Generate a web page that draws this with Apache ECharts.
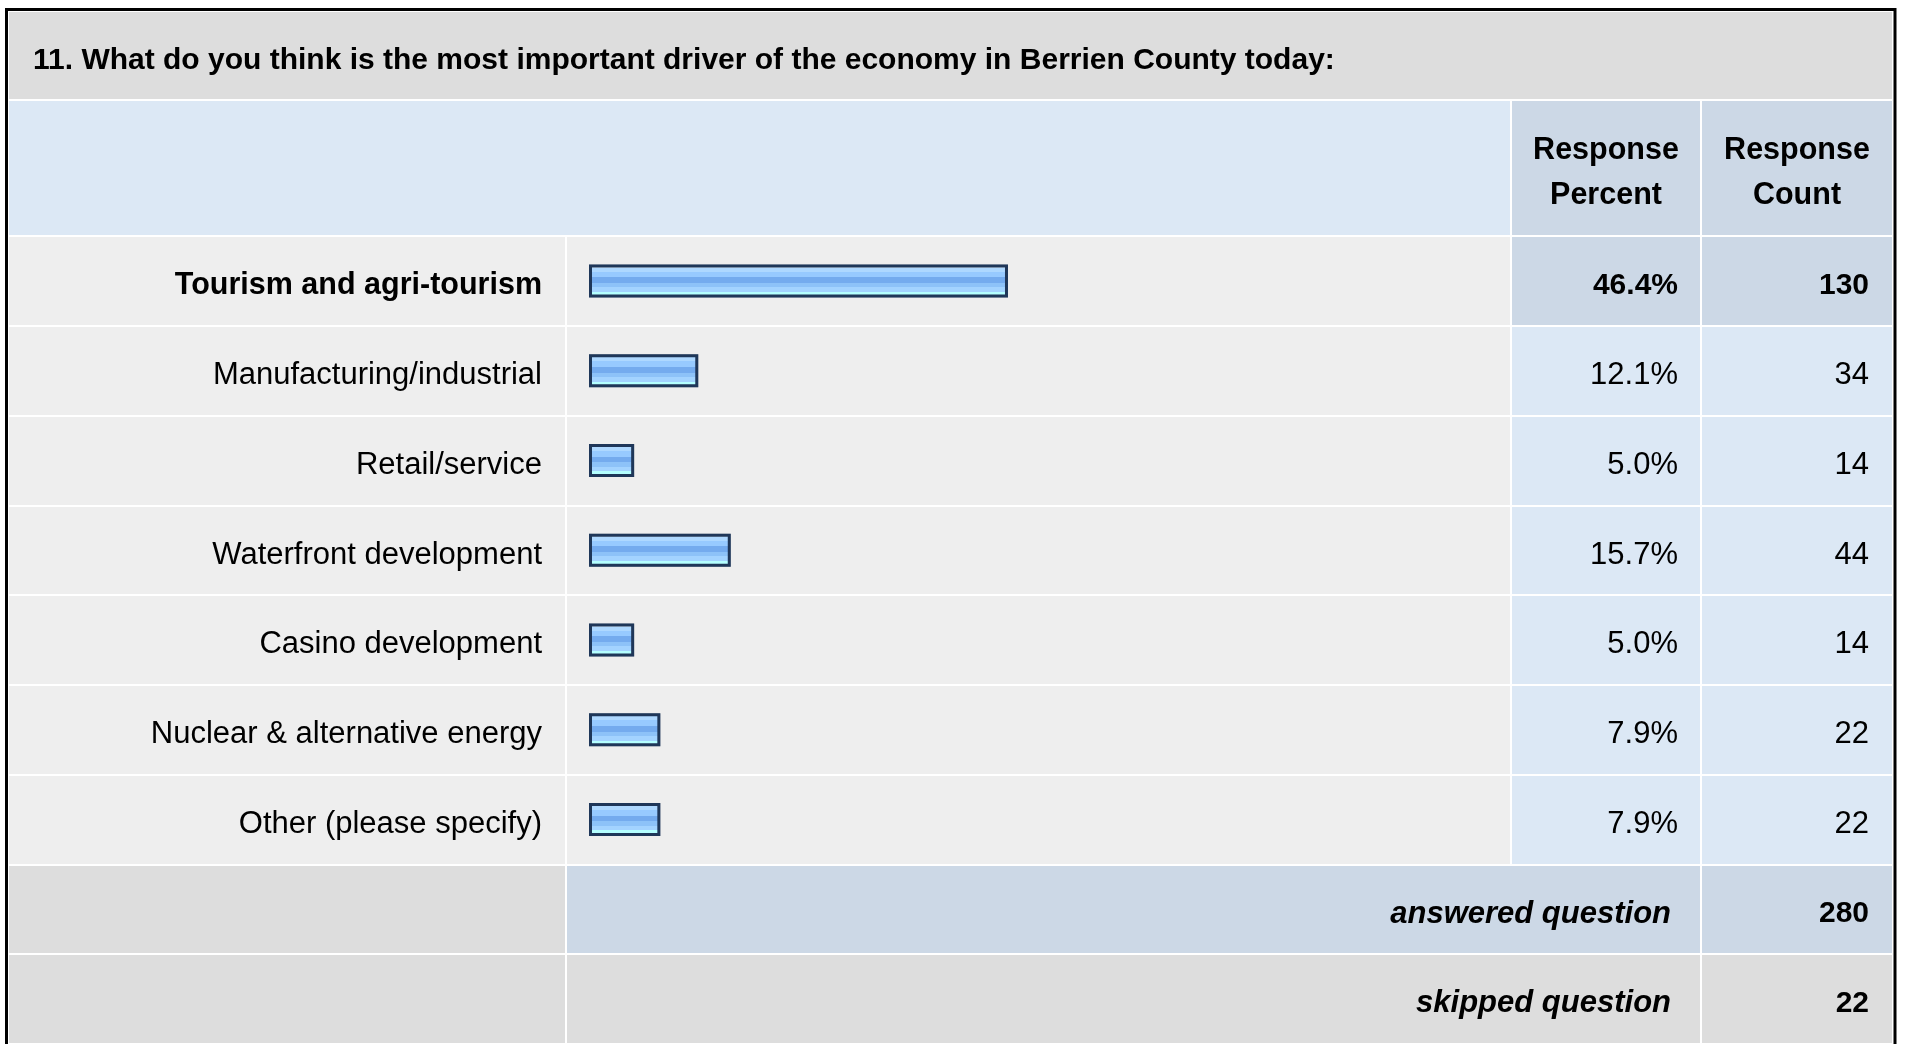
<!DOCTYPE html>
<html><head><meta charset="utf-8">
<script src="https://cdn.jsdelivr.net/npm/echarts@6/dist/echarts.min.js"></script>
<style>html,body{margin:0;padding:0;background:#fff;}#c{width:1907px;height:1044px;}</style>
</head><body><div id="c"></div>
<script>
const questionTitle = '11. What do you think is the most important driver of the economy in Berrien County today:';
const categories = ['Tourism and agri-tourism','Manufacturing/industrial','Retail/service','Waterfront development','Casino development','Nuclear & alternative energy','Other (please specify)'];
const responsePercent = [46.4, 12.1, 5.0, 15.7, 5.0, 7.9, 7.9];
const responseCount = [130, 34, 14, 44, 14, 22, 22];
const summaryLabels = ['answered question', 'skipped question'];
const summaryCounts = [280, 22];
const headerLabels = ['Response\nPercent', 'Response\nCount'];

const FONT = '"Liberation Sans", Arial, Helvetica, sans-serif';
const FS = 31;
const PAD = [10, 0, 0, 0];
const rowsTop = 236, rowH = 89.75, nRows = categories.length;
const rowsH = rowH * nRows;
const footTop = rowsTop + rowsH, footH = rowH * summaryLabels.length;

const chart = echarts.init(document.getElementById('c'), null, {renderer: 'canvas'});

function grid(left, right, top, height) { return {left: left, width: right - left, top: top, height: height, containLabel: false}; }
const grids = [
  grid(9, 565, rowsTop, rowsH),        // 0 label col
  grid(567, 1510, rowsTop, rowsH),     // 1 bar col bg
  grid(589, 1492, rowsTop, rowsH),     // 2 bars
  grid(1512, 1700, rowsTop, rowsH),    // 3 percent
  grid(1702, 1892, rowsTop, rowsH),    // 4 count
  grid(9, 565, footTop, footH),        // 5 footer label
  grid(567, 1700, footTop, footH),     // 6 footer middle
  grid(1702, 1892, footTop, footH)     // 7 footer count
];
const xAxes = grids.map((g, i) => ({type: 'value', gridIndex: i, min: 0, max: 100, show: false}));

function catAxis(gi, data, colors, label, extra) {
  return Object.assign({
    type: 'category', gridIndex: gi, data: data, inverse: true,
    axisLine: {show: false}, axisTick: {show: false},
    splitLine: colors ? {show: true, interval: 0, lineStyle: {color: '#ffffff', width: 2}} : {show: false},
    splitArea: colors ? {show: true, interval: 0, areaStyle: {color: colors}} : {show: false},
    axisLabel: label ? Object.assign({show: true, interval: 0, color: '#000', fontFamily: FONT, fontSize: FS, padding: PAD}, label) : {show: false}
  }, extra || {});
}
const richLabel = {b: {fontFamily: FONT, fontSize: 30.5, fontWeight: 'bold', color: '#000'}};
const richValue = {b: {fontFamily: FONT, fontSize: 30, fontWeight: 'bold', color: '#000'}};
const richFoot = {bi: {fontFamily: FONT, fontSize: 31, fontWeight: 'bold', fontStyle: 'italic', color: '#000'},
                  b: {fontFamily: FONT, fontSize: 30, fontWeight: 'bold', color: '#000'}};
const grayRows = categories.map(() => '#eeeeee');
const blueRows = categories.map((c, i) => i === 0 ? '#ccd8e6' : '#dce8f5');

const yAxes = [
  catAxis(0, categories, grayRows, null),
  catAxis(1, categories, grayRows, null),
  catAxis(2, categories, null, {margin: 47, rich: richLabel,
    formatter: (v, i) => i === 0 ? '{b|' + v + '}' : v}, {position: 'left', z: 5}),
  catAxis(3, categories, blueRows, {inside: true, margin: 22, rich: richValue,
    formatter: (v, i) => { const s = responsePercent[i].toFixed(1) + '%'; return i === 0 ? '{b|' + s + '}' : s; }}, {position: 'right'}),
  catAxis(4, categories, blueRows, {inside: true, margin: 23, rich: richValue,
    formatter: (v, i) => { const s = String(responseCount[i]); return i === 0 ? '{b|' + s + '}' : s; }}, {position: 'right'}),
  catAxis(5, summaryLabels, ['#dddddd', '#dddddd'], null),
  catAxis(6, summaryLabels, ['#ccd8e6', '#dddddd'], {inside: true, margin: 29, rich: richFoot,
    formatter: (v) => '{bi|' + v + '}'}, {position: 'right'}),
  catAxis(7, summaryLabels, ['#ccd8e6', '#dddddd'], {inside: true, margin: 23, rich: richFoot,
    formatter: (v, i) => '{b|' + summaryCounts[i] + '}'}, {position: 'right'})
];

const barGradient = {type: 'linear', x: 0, y: 0, x2: 0, y2: 1, colorStops: [
  {offset: 0, color: '#d6ecff'}, {offset: 0.1, color: '#d6ecff'},
  {offset: 0.1, color: '#aed8ff'}, {offset: 0.22, color: '#aed8ff'},
  {offset: 0.22, color: '#97caff'}, {offset: 0.39, color: '#97caff'},
  {offset: 0.39, color: '#74abee'}, {offset: 0.56, color: '#74abee'},
  {offset: 0.56, color: '#8dc2f8'}, {offset: 0.69, color: '#8dc2f8'},
  {offset: 0.69, color: '#a3d3ff'}, {offset: 0.83, color: '#a3d3ff'},
  {offset: 0.83, color: '#b4ffff'}, {offset: 1, color: '#b4ffff'}
]};

const headerStyle = (text, x) => ({type: 'text', x: x, y: 173, z: 10, style: {
  text: text, fill: '#000', fontFamily: FONT, fontSize: 30.5, fontWeight: 'bold',
  align: 'center', verticalAlign: 'middle', lineHeight: 45}});

chart.setOption({
  animation: false,
  backgroundColor: '#ffffff',
  title: {text: questionTitle, left: 33, top: 45.5, padding: 0, z: 10,
    textStyle: {fontFamily: FONT, fontSize: 30, fontWeight: 'bold', color: '#000', lineHeight: 30}},
  graphic: [
    {type: 'rect', z: 0, shape: {x: 9, y: 12, width: 1883, height: 87}, style: {fill: '#dddddd'}},
    {type: 'rect', z: 0, shape: {x: 9, y: 101, width: 1501, height: 134}, style: {fill: '#dce8f5'}},
    {type: 'rect', z: 0, shape: {x: 1512, y: 101, width: 188, height: 134}, style: {fill: '#ccd8e6'}},
    {type: 'rect', z: 0, shape: {x: 1702, y: 101, width: 190, height: 134}, style: {fill: '#ccd8e6'}},
    {type: 'rect', z: 20, shape: {x: 6.5, y: 9.5, width: 1888.5, height: 1200}, style: {fill: 'transparent', stroke: '#000', lineWidth: 3}},
    headerStyle(headerLabels[0], 1606),
    headerStyle(headerLabels[1], 1797)
  ],
  grid: grids,
  xAxis: xAxes,
  yAxis: yAxes,
  series: [{
    type: 'bar', xAxisIndex: 2, yAxisIndex: 2, data: responsePercent,
    barWidth: 33, silent: true, z: 1,
    itemStyle: {color: 'transparent', borderColor: 'rgba(60,80,110,0.35)', borderWidth: 5}
  }, {
    type: 'bar', xAxisIndex: 2, yAxisIndex: 2, data: responsePercent,
    barWidth: 33, barGap: '-100%', silent: true, z: 2,
    itemStyle: {color: barGradient, borderColor: '#1f3759', borderWidth: 3}
  }]
});
</script></body></html>
